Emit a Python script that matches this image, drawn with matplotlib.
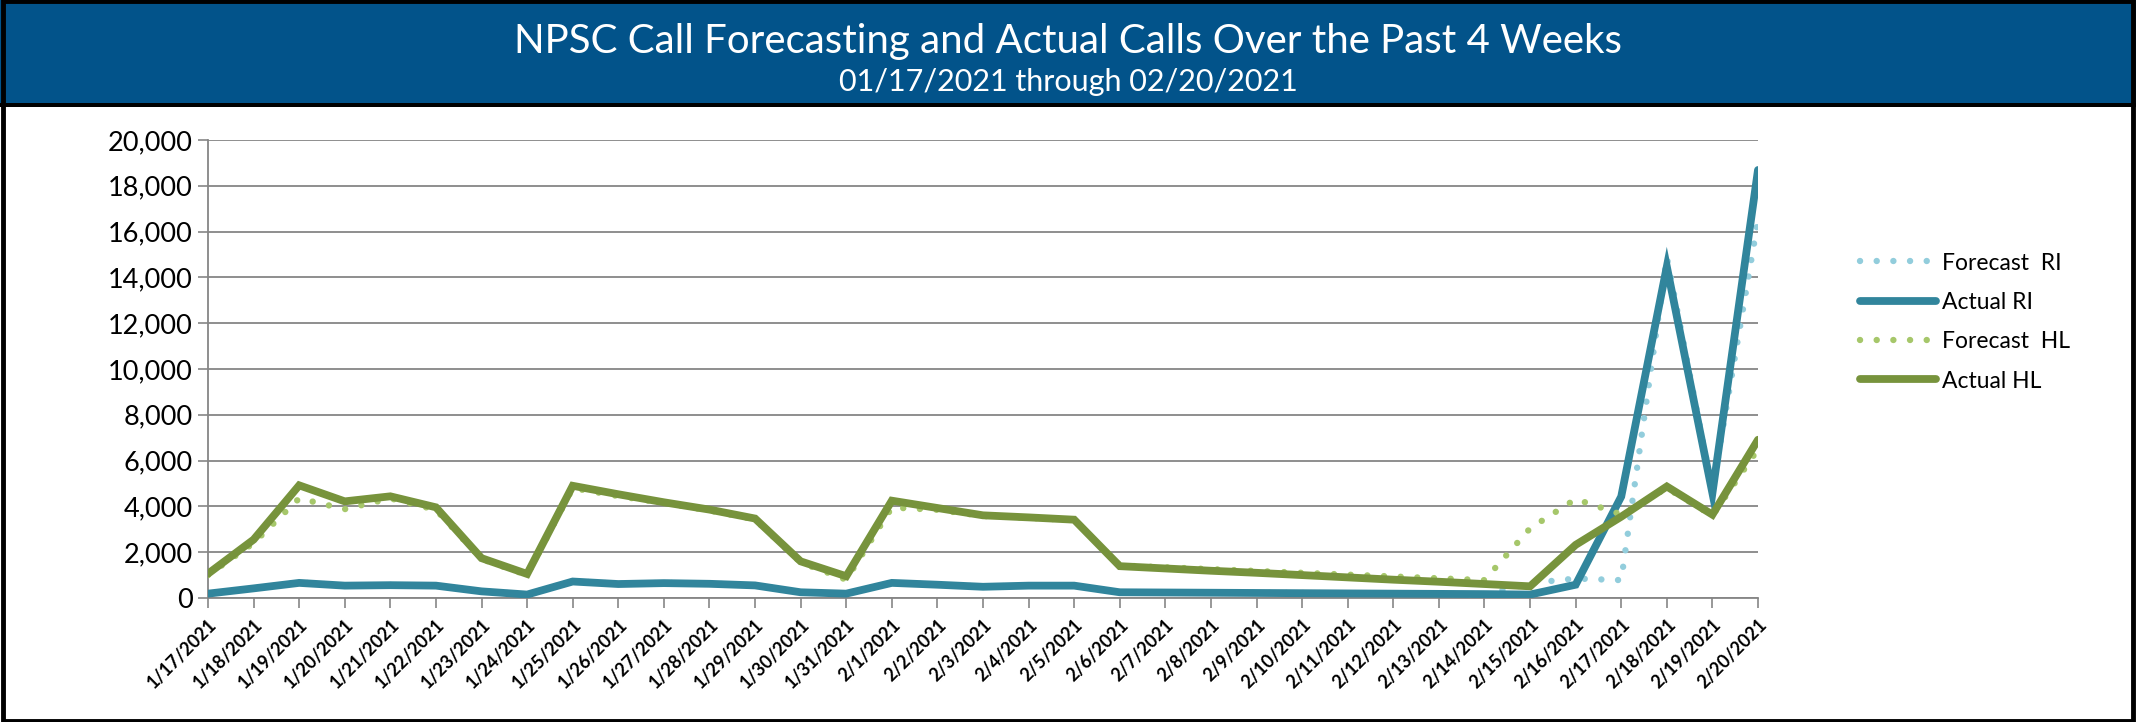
import matplotlib.pyplot as plt
from matplotlib.patches import Rectangle
from matplotlib.ticker import FuncFormatter

plt.rcParams['font.family'] = ['Lato', 'DejaVu Sans']

dates = ['1/17/2021', '1/18/2021', '1/19/2021', '1/20/2021', '1/21/2021', '1/22/2021',
         '1/23/2021', '1/24/2021', '1/25/2021', '1/26/2021', '1/27/2021', '1/28/2021',
         '1/29/2021', '1/30/2021', '1/31/2021', '2/1/2021', '2/2/2021', '2/3/2021',
         '2/4/2021', '2/5/2021', '2/6/2021', '2/7/2021', '2/8/2021', '2/9/2021',
         '2/10/2021', '2/11/2021', '2/12/2021', '2/13/2021', '2/14/2021', '2/15/2021',
         '2/16/2021', '2/17/2021', '2/18/2021', '2/19/2021', '2/20/2021']

forecast_ri = [200, 430, 680, 550, 570, 550, 300, 160, 740, 620, 660, 630, 560, 260, 200,
               670, 590, 500, 550, 550, 260, 250, 240, 230, 220, 210, 200, 190, 140, 650,
               850, 780, 14880, 4700, 16500]
actual_ri = [190, 420, 660, 540, 560, 540, 290, 150, 720, 610, 650, 620, 550, 250, 190,
             660, 580, 490, 540, 540, 250, 240, 230, 220, 210, 200, 190, 180, 170, 150,
             580, 4430, 14470, 4580, 18690]
forecast_hl = [1000, 2400, 4350, 3880, 4350, 3850, 1700, 1000, 4800, 4450, 4150, 3820, 3430,
               1550, 800, 3950, 3850, 3580, 3500, 3400, 1420, 1340, 1260, 1180, 1100, 1020,
               940, 860, 780, 3040, 4320, 3650, 4800, 3600, 6500]
actual_hl = [1060, 2550, 4920, 4220, 4440, 3960, 1740, 1050, 4900, 4530, 4180, 3860, 3470,
             1600, 950, 4250, 3930, 3610, 3520, 3420, 1390, 1290, 1190, 1100, 1000, 900,
             800, 710, 610, 510, 2320, 3550, 4870, 3640, 6910]

title = 'NPSC Call Forecasting and Actual Calls Over the Past 4 Weeks'
subtitle = '01/17/2021 through 02/20/2021'

W, H = 2136, 722
fig = plt.figure(figsize=(W / 100, H / 100), dpi=100)

# header band and frame
fig.patches.append(Rectangle((0, 1 - 103 / H), 1, 103 / H, transform=fig.transFigure,
                             facecolor='#02538A', edgecolor='none', zorder=0))
fig.patches.append(Rectangle((0, 1 - 107 / H), 1, 4 / H, transform=fig.transFigure,
                             facecolor='black', edgecolor='none', zorder=1))
fig.patches.append(Rectangle((0.0012, 0.002), 0.9976, 0.996, transform=fig.transFigure,
                             facecolor='none', edgecolor='black', linewidth=3.5, zorder=2))

fig.text(0.5, 1 - 41 / H, title, color='white', fontsize=29, ha='center', va='center')
fig.text(0.5, 1 - 82 / H, subtitle, color='white', fontsize=22, ha='center', va='center')

ax = fig.add_axes([208 / W, 1 - 598 / H, 1550 / W, 458 / H])
x = list(range(len(dates)))

dot = (0, (0.01, 2.6))
ax.plot(x, forecast_ri, color='#92CDDC', lw=4.6, linestyle=dot, dash_capstyle='round',
        label='Forecast  RI', zorder=3)
ax.plot(x, actual_ri, color='#31859C', lw=5.6, solid_capstyle='round', solid_joinstyle='miter',
        label='Actual RI', zorder=4)
ax.plot(x, forecast_hl, color='#A6C76A', lw=4.6, linestyle=dot, dash_capstyle='round',
        label='Forecast  HL', zorder=5)
ax.plot(x, actual_hl, color='#77933C', lw=5.6, solid_capstyle='round', solid_joinstyle='miter',
        label='Actual HL', zorder=6)

ax.set_xlim(0, len(dates) - 1)
ax.set_ylim(0, 20000)
ax.set_yticks(range(0, 20001, 2000))
ax.yaxis.set_major_formatter(FuncFormatter(lambda v, p: '{:,.0f}'.format(v)))
ax.set_xticks(x)
ax.set_xticklabels(dates, rotation=45, ha='right', va='top', rotation_mode='anchor',
                   fontsize=13, fontweight='bold')
ax.tick_params(axis='y', labelsize=19.5, length=7, width=1.2, color='#868686', pad=4)
ax.tick_params(axis='x', length=7, width=1.2, color='#868686', pad=6)
ax.grid(axis='y', color='#868686', linewidth=1.3)
ax.set_axisbelow(True)
for s in ['top', 'right']:
    ax.spines[s].set_visible(False)
for s in ['left', 'bottom']:
    ax.spines[s].set_color('#868686')
    ax.spines[s].set_linewidth(1.3)

fig.legend(loc='center left', bbox_to_anchor=(1860 / W, 1 - 322 / H), frameon=False,
           fontsize=16.5, handlelength=3.3, handletextpad=0.3, labelspacing=0.8,
           borderpad=0, borderaxespad=0)

fig.savefig('out.png', dpi=100, facecolor='white')
